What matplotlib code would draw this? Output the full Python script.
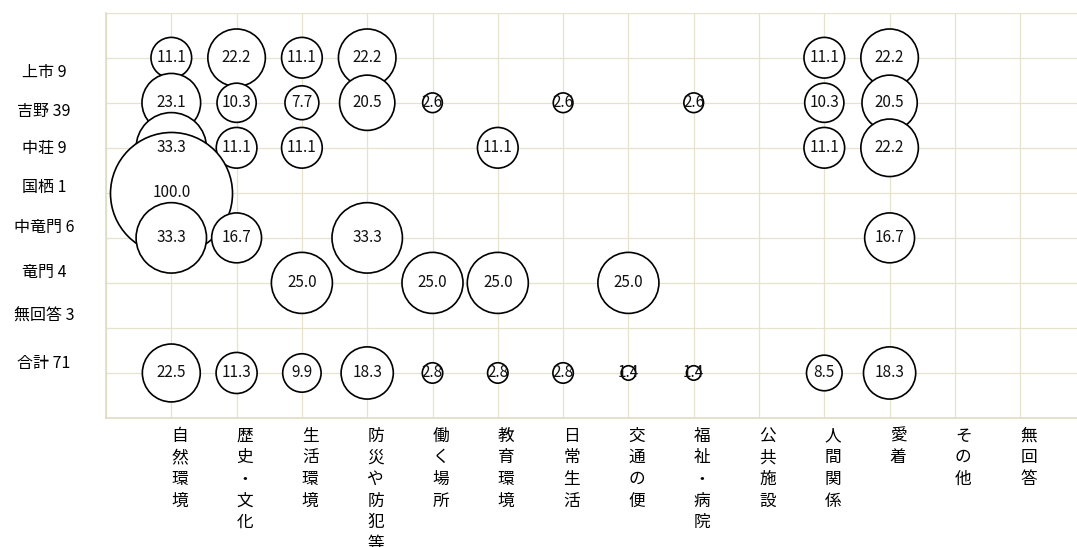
import numpy as np
import matplotlib
matplotlib.use('Agg')
import matplotlib.pyplot as plt

plt.rcParams['font.family'] = ['Noto Sans CJK JP', 'DejaVu Sans']

# categories
areas = ['上市 9', '吉野 39', '中荘 9', '国栖 1', '中竜門 6', '竜門 4', '無回答 3', '合計 71']
items = ['自然環境', '歴史・文化', '生活環境', '防災や防犯等', '働く場所', '教育環境', '日常生活',
         '交通の便', '福祉・病院', '公共施設', '人間関係', '愛着', 'その他', '無回答']

n = np.nan
kamiichi = [11.1, 22.2, 11.1, 22.2, n, n, n, n, n, n, 11.1, 22.2, n, n]
yoshino = [23.1, 10.3, 7.7, 20.5, 2.6, n, 2.6, n, 2.6, n, 10.3, 20.5, n, n]
nakasho = [33.3, 11.1, 11.1, n, n, 11.1, n, n, n, n, 11.1, 22.2, n, n]
kuzu = [100.0, n, n, n, n, n, n, n, n, n, n, n, n, n]
nakaryumon = [33.3, 16.7, n, 33.3, n, n, n, n, n, n, n, 16.7, n, n]
ryumon = [n, n, 25.0, n, 25.0, 25.0, n, 25.0, n, n, n, n, n, n]
mukaito = [n] * 14
total = [22.5, 11.3, 9.9, 18.3, 2.8, 2.8, 2.8, 1.4, 1.4, n, 8.5, 18.3, n, n]

rows = [kamiichi, yoshino, nakasho, kuzu, nakaryumon, ryumon, mukaito, total]

# area label positions (separate text boxes in the original)
label_y = [0.33, 1.19, 2.01, 2.88, 3.76, 4.76, 5.75, 6.8]

fig = plt.figure(figsize=(10.77, 5.47), dpi=100)
ax = fig.add_axes([106 / 1077, 1 - 418 / 547, 1 - 106 / 1077, (418 - 12.7) / 547])

grid_c = '#e6e2cc'
for gx in range(-1, 14):
    ax.axvline(gx, color=grid_c, lw=0.9, zorder=0)
for gy in range(-1, 9):
    ax.axhline(gy, color=grid_c, lw=0.9, zorder=0)

z = 2
for r, vals in enumerate(rows):
    v = np.array(vals, dtype=float)
    xs = np.arange(len(items))
    m = ~np.isnan(v)
    ax.scatter(xs[m], np.full(m.sum(), r), s=v[m] * 77.2, facecolor='white',
               edgecolor='black', linewidth=1.2, zorder=z)
    z += 1

for r, vals in enumerate(rows):
    for c, val in enumerate(vals):
        if not np.isnan(val):
            ax.text(c, r, f'{val:.1f}', ha='center', va='center', fontsize=11,
                    color='#111111', zorder=50)

for r, lab in enumerate(areas):
    ax.text(-1.95, label_y[r], lab, ha='center', va='center', fontsize=11.5, clip_on=False)

for c, lab in enumerate(items):
    for i, ch in enumerate(lab):
        ax.annotate(ch, xy=(c, 0), xycoords=('data', 'axes fraction'),
                    xytext=(6, -13 - 15.6 * i), textcoords='offset points',
                    ha='center', va='center', fontsize=12, annotation_clip=False)

ax.set_xlim(-1, -1 + 971 / 65.3)
ax.set_ylim(8, -1)
ax.set_xticks([])
ax.set_yticks([])
for s in ['top', 'right']:
    ax.spines[s].set_visible(False)
for s in ['left', 'bottom']:
    ax.spines[s].set_color('#e0dcc4')
    ax.spines[s].set_linewidth(1.2)

fig.savefig('out.png', dpi=100)
